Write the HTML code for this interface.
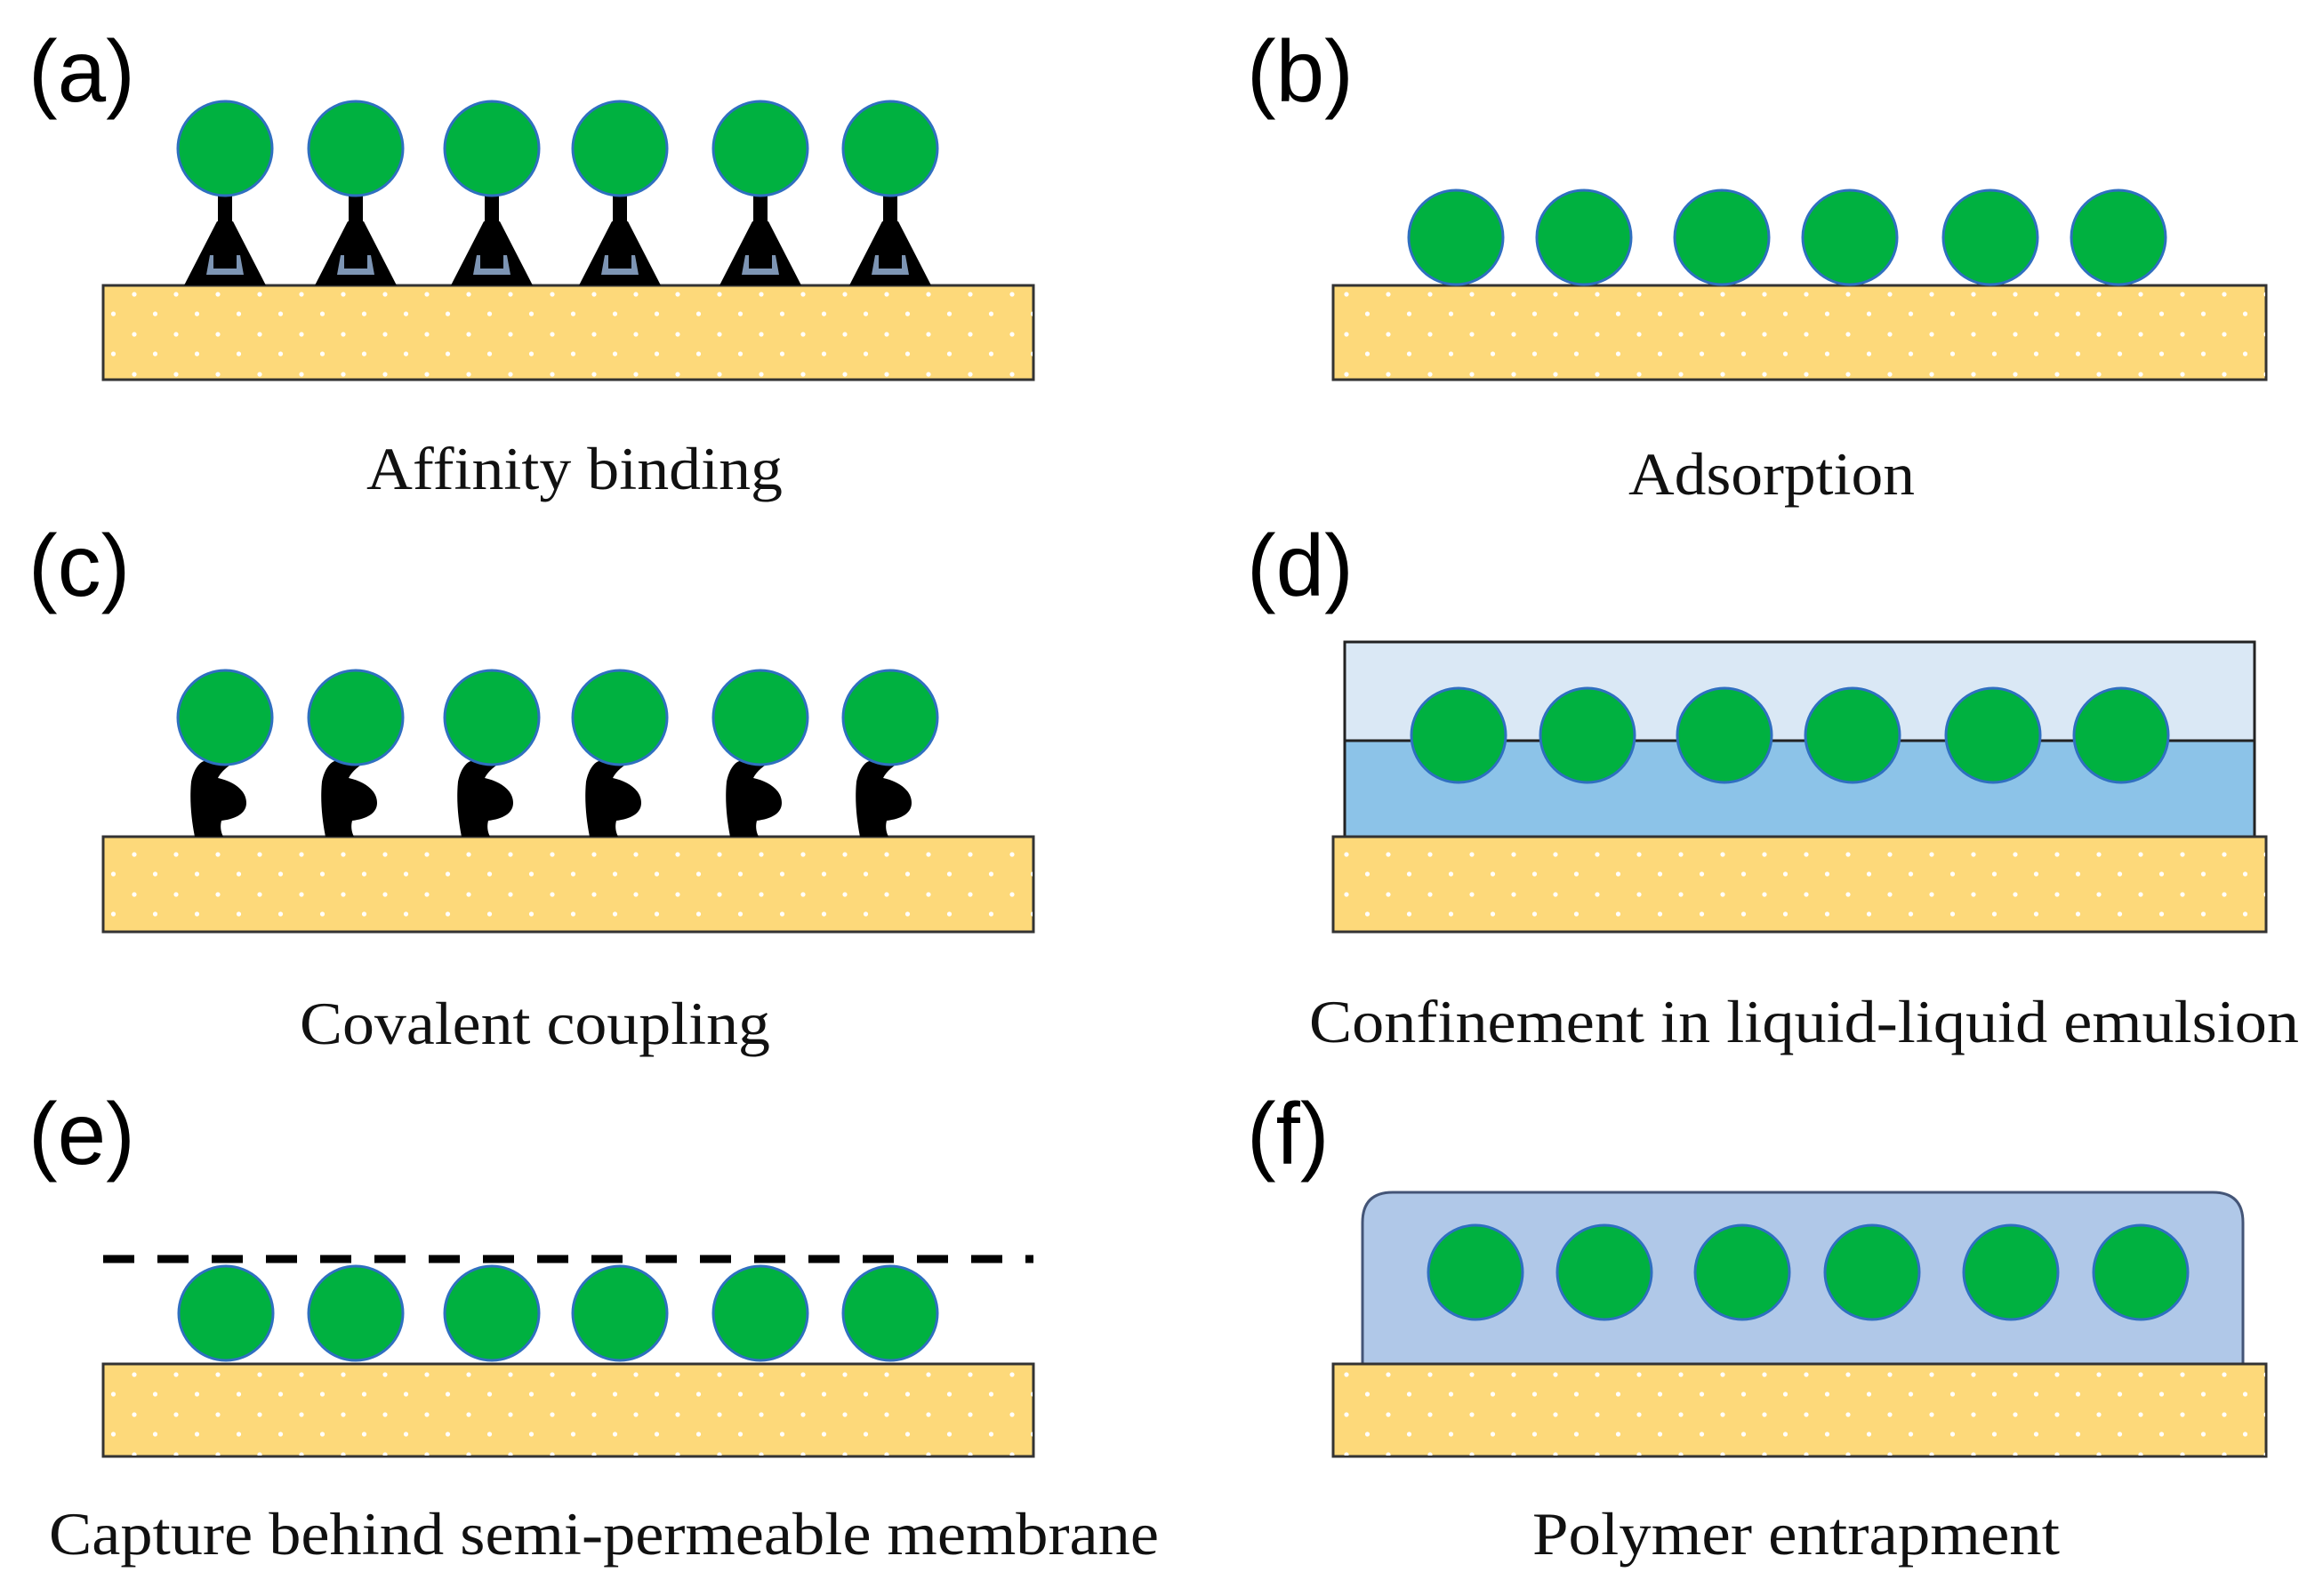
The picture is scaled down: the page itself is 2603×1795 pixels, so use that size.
<!DOCTYPE html>
<html><head><meta charset="utf-8"><style>
html,body{margin:0;padding:0;background:#fff}
svg{display:block}
.lbl{font-family:"Liberation Sans",sans-serif;font-size:98px;fill:#000}
.cap{font-family:"Liberation Serif",serif;font-size:68px;fill:#111}
</style></head><body>
<svg width="2603" height="1795" viewBox="0 0 2603 1795" xmlns="http://www.w3.org/2000/svg">
<defs>
<pattern id="dots" x="0" y="0" width="47" height="45" patternUnits="userSpaceOnUse">
<circle cx="10" cy="16" r="2.6" fill="#fff"/>
<circle cx="33.5" cy="38" r="2.6" fill="#fff"/>
</pattern>
<g id="ball"><circle r="53" fill="#00b140" stroke="#2f6fc0" stroke-width="3"/></g>
<g id="aff">
<rect x="-8" y="-104" width="16" height="40" fill="#000"/>
<polygon points="-9,-72 9,-72 46,0 -46,0" fill="#000"/>
<path d="M-21,-12 L-17,-34 L-13,-34 L-13,-19 L13,-19 L13,-34 L17,-34 L21,-12 Z" fill="#7d95b4"/>
</g>
<g id="cov">
<path d="M-26,-84 C-14,-90 4,-90 14,-86 C4,-80 -4,-74 -8,-66 C10,-62 24,-52 24,-38 C24,-26 12,-20 -4,-18 C-6,-10 -4,-4 -2,0 L-34,0 C-38,-20 -40,-42 -38,-62 C-36,-72 -32,-80 -26,-84 Z" fill="#000"/>
</g>
</defs>

<!-- (a) -->
<text class="lbl" x="32" y="114">(a)</text>
<rect x="116" y="321" width="1046" height="106" fill="#fdd97a" stroke="#333" stroke-width="3"/>
<rect x="117" y="322" width="1044" height="104" fill="url(#dots)"/>
<g>
<use href="#aff" x="253" y="321"/><use href="#aff" x="400" y="321"/><use href="#aff" x="553" y="321"/>
<use href="#aff" x="697" y="321"/><use href="#aff" x="855" y="321"/><use href="#aff" x="1001" y="321"/>
<use href="#ball" x="253" y="167"/><use href="#ball" x="400" y="167"/><use href="#ball" x="553" y="167"/>
<use href="#ball" x="697" y="167"/><use href="#ball" x="855" y="167"/><use href="#ball" x="1001" y="167"/>
</g>
<text class="cap" x="412" y="550" textLength="468" lengthAdjust="spacingAndGlyphs">Affinity binding</text>

<!-- (b) -->
<text class="lbl" x="1402" y="114">(b)</text>
<rect x="1499" y="321" width="1049" height="106" fill="#fdd97a" stroke="#333" stroke-width="3"/>
<rect x="1500" y="322" width="1047" height="104" fill="url(#dots)"/>
<use href="#ball" x="1637" y="267"/><use href="#ball" x="1781" y="267"/><use href="#ball" x="1936" y="267"/>
<use href="#ball" x="2080" y="267"/><use href="#ball" x="2238" y="267"/><use href="#ball" x="2382" y="267"/>
<text class="cap" x="1831" y="556" textLength="322" lengthAdjust="spacingAndGlyphs">Adsorption</text>

<!-- (c) -->
<text class="lbl" x="32" y="670">(c)</text>
<rect x="116" y="941" width="1046" height="107" fill="#fdd97a" stroke="#333" stroke-width="3"/>
<rect x="117" y="942" width="1044" height="105" fill="url(#dots)"/>
<use href="#cov" x="253" y="941"/><use href="#cov" x="400" y="941"/><use href="#cov" x="553" y="941"/>
<use href="#cov" x="697" y="941"/><use href="#cov" x="855" y="941"/><use href="#cov" x="1001" y="941"/>
<use href="#ball" x="253" y="807"/><use href="#ball" x="400" y="807"/><use href="#ball" x="553" y="807"/>
<use href="#ball" x="697" y="807"/><use href="#ball" x="855" y="807"/><use href="#ball" x="1001" y="807"/>
<text class="cap" x="337" y="1174" textLength="529" lengthAdjust="spacingAndGlyphs">Covalent coupling</text>

<!-- (d) -->
<text class="lbl" x="1402" y="670">(d)</text>
<rect x="1512" y="722" width="1023" height="219" fill="#dae8f5" stroke="#222" stroke-width="3"/>
<rect x="1513.5" y="833" width="1020" height="106.5" fill="#8cc3e8"/>
<line x1="1512" y1="833" x2="2535" y2="833" stroke="#222" stroke-width="3"/>
<rect x="1499" y="941" width="1049" height="107" fill="#fdd97a" stroke="#333" stroke-width="3"/>
<rect x="1500" y="942" width="1047" height="105" fill="url(#dots)"/>
<use href="#ball" x="1640" y="827"/><use href="#ball" x="1785" y="827"/><use href="#ball" x="1939" y="827"/>
<use href="#ball" x="2083" y="827"/><use href="#ball" x="2241" y="827"/><use href="#ball" x="2385" y="827"/>
<text class="cap" x="1472" y="1172" textLength="1113" lengthAdjust="spacingAndGlyphs">Confinement in liquid-liquid emulsion</text>

<!-- (e) -->
<text class="lbl" x="32" y="1309">(e)</text>
<line x1="116" y1="1416" x2="1162" y2="1416" stroke="#000" stroke-width="9" stroke-dasharray="35 26"/>
<rect x="116" y="1534" width="1046" height="104" fill="#fdd97a" stroke="#333" stroke-width="3"/>
<rect x="117" y="1535" width="1044" height="102" fill="url(#dots)"/>
<use href="#ball" x="254" y="1477"/><use href="#ball" x="400" y="1477"/><use href="#ball" x="553" y="1477"/>
<use href="#ball" x="697" y="1477"/><use href="#ball" x="855" y="1477"/><use href="#ball" x="1001" y="1477"/>
<text class="cap" x="55" y="1748" textLength="1248" lengthAdjust="spacingAndGlyphs">Capture behind semi-permeable membrane</text>

<!-- (f) -->
<text class="lbl" x="1402" y="1309">(f)</text>
<path d="M1532,1534 L1532,1375 Q1532,1341 1566,1341 L2488,1341 Q2522,1341 2522,1375 L2522,1534 Z" fill="#b0c8e8" stroke="#445577" stroke-width="3"/>
<rect x="1499" y="1534" width="1049" height="104" fill="#fdd97a" stroke="#333" stroke-width="3"/>
<rect x="1500" y="1535" width="1047" height="102" fill="url(#dots)"/>
<use href="#ball" x="1659" y="1431"/><use href="#ball" x="1804" y="1431"/><use href="#ball" x="1959" y="1431"/>
<use href="#ball" x="2105" y="1431"/><use href="#ball" x="2261" y="1431"/><use href="#ball" x="2407" y="1431"/>
<text class="cap" x="1723" y="1748" textLength="593" lengthAdjust="spacingAndGlyphs">Polymer entrapment</text>
</svg>
</body></html>
